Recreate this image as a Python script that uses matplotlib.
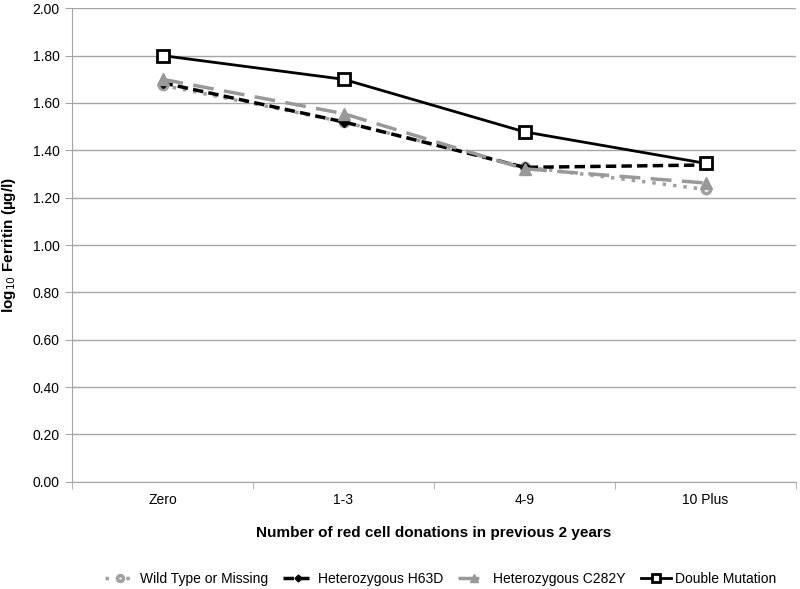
import matplotlib.pyplot as plt
import numpy as np

plt.rcParams['font.family'] = ['Liberation Sans', 'DejaVu Sans']

categories = ['Zero', '1-3', '4-9', '10 Plus']
wild_type = [1.675, 1.52, 1.33, 1.235]
h63d = [1.685, 1.52, 1.328, 1.338]
c282y = [1.70, 1.555, 1.322, 1.262]
double_mut = [1.80, 1.70, 1.478, 1.345]

fig = plt.figure(figsize=(8, 5.89), dpi=100)
ax = fig.add_axes([0.09, 0.182, 0.905, 0.804])

x = np.arange(len(categories))
grey = '#a0a0a0'
ax.plot(x, wild_type, color=grey, linestyle=(0, (1, 2)), linewidth=2.5,
        marker='o', markersize=6, markerfacecolor='white', markeredgecolor=grey,
        markeredgewidth=2.5, label='Wild Type or Missing')
ax.plot(x, h63d, color='black', linestyle=(0, (3, 1.5)), linewidth=2.5,
        marker='D', markersize=5, label='Heterozygous H63D')
ax.plot(x, c282y, color='#999999', linestyle=(0, (6, 3)), linewidth=2.5,
        marker='^', markersize=8, label='Heterozygous C282Y')
ax.plot(x, double_mut, color='black', linestyle='-', linewidth=2,
        marker='s', markersize=8, markerfacecolor='white', markeredgecolor='black',
        markeredgewidth=2, label='Double Mutation')

ax.set_xlim(-0.5, 3.5)
ax.set_ylim(0, 2.0)
ax.set_yticks(np.arange(0, 2.01, 0.2))
ax.set_yticklabels([f'{v:.2f}' for v in np.arange(0, 2.01, 0.2)], fontsize=10)
ax.set_xticks(x)
ax.set_xticklabels(categories, fontsize=10)
ax.set_xticks(np.arange(-0.5, 3.6, 1), minor=True)
ax.tick_params(axis='x', which='major', length=0, pad=8)
ax.tick_params(axis='x', which='minor', length=5, color='#a6a6a6')
ax.tick_params(axis='y', length=5, color='#a6a6a6', pad=4)
ax.yaxis.grid(True, color='#a6a6a6', linewidth=1)
ax.set_axisbelow(True)
for s in ['top', 'right']:
    ax.spines[s].set_visible(False)
for s in ['left', 'bottom']:
    ax.spines[s].set_color('#a6a6a6')

ax.set_ylabel('log$_{10}$ Ferritin (µg/l)', fontsize=11, fontweight='bold', labelpad=10)
ax.set_xlabel('Number of red cell donations in previous 2 years', fontsize=11,
              fontweight='bold', labelpad=14)

fig.legend(loc='lower center', bbox_to_anchor=(0.551, -0.016), ncol=4, frameon=False,
           fontsize=10, handlelength=2.2, columnspacing=1.1, handletextpad=0.3,
           markerscale=0.7)

fig.savefig('out.png', dpi=100)
